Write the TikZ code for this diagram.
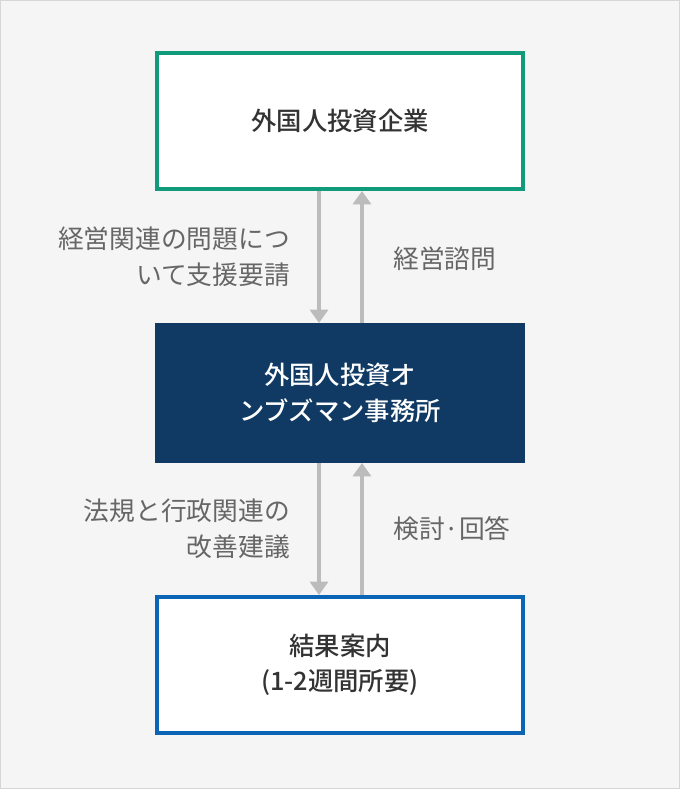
\documentclass[tikz,border=0pt]{standalone}
\usepackage{fontspec}
\usepackage{xcolor}
\usepackage{tikz}
\setmainfont{Noto Sans CJK JP}[BoldFont={Noto Sans CJK JP Medium}]
\definecolor{bggray}{RGB}{245, 245, 245}
\definecolor{framegray}{RGB}{214, 214, 214}
\definecolor{investgreen}{RGB}{17, 155, 122}
\definecolor{ombudnavy}{RGB}{16, 58, 99}
\definecolor{resultblue}{RGB}{12, 100, 180}
\definecolor{arrowgray}{RGB}{188, 188, 188}
\definecolor{textdark}{RGB}{51, 51, 51}
\definecolor{textgray}{RGB}{102, 102, 102}
\usetikzlibrary{arrows.meta, positioning, calc}

\begin{document}
\begin{tikzpicture}[
        x=0.75pt, y=-0.75pt,
        node distance=99pt,
        flowarrow/.style={-{Triangle[width=13.5pt, length=10pt]}, line width=3pt, arrowgray},
        orgbox/.style={rectangle, minimum width=274.5pt, minimum height=102pt, line width=3pt, align=center, font=\fontsize{19pt}{26.5pt}\selectfont\bfseries, text=textdark},
        sidelabel/.style={inner sep=0pt, font=\fontsize{19.3pt}{27pt}\selectfont, text=textgray}
    ]
        % Background
        \path[fill=bggray, draw=framegray, line width=0.75pt] (0.5,0.5) rectangle (679.5,788.5);
        \useasboundingbox (0,0) rectangle (680,789);

        % Boxes
        \node[orgbox, draw=investgreen, fill=white] (investor) at (340,121) {外国人投資企業};
        \node[orgbox, draw=ombudnavy, fill=ombudnavy, text=white, below=of investor] (ombud) {外国人投資オ\\ンブズマン事務所};
        \node[orgbox, draw=resultblue, fill=white, below=of ombud] (result) {結果案内\\(1-2週間所要)};

        % Arrows
        \draw[flowarrow] ([xshift=-15.75pt]investor.south) -- ([xshift=-15.75pt]ombud.north);
        \draw[flowarrow] ([xshift=16.5pt]ombud.north) -- ([xshift=16.5pt]investor.south);
        \draw[flowarrow] ([xshift=-15.75pt]ombud.south) -- ([xshift=-15.75pt]result.north);
        \draw[flowarrow] ([xshift=16.5pt]result.north) -- ([xshift=16.5pt]ombud.south);

        % Labels
        \node[sidelabel, anchor=east, align=right] (request) at ($(investor.south)!0.5!(ombud.north)+(-50,0)$) {経営関連の問題につ\\いて支援要請};
        \node[sidelabel, anchor=west] (advice) at ($(investor.south)!0.5!(ombud.north)+(53,2)$) {経営諮問};
        \node[sidelabel, anchor=east, align=right] (proposal) at ($(ombud.south)!0.5!(result.north)+(-50,0)$) {法規と行政関連の\\改善建議};
        \node[sidelabel, anchor=west] (answer) at ($(ombud.south)!0.5!(result.north)+(53,0)$) {検討·回答};
    \end{tikzpicture}
\end{document}
